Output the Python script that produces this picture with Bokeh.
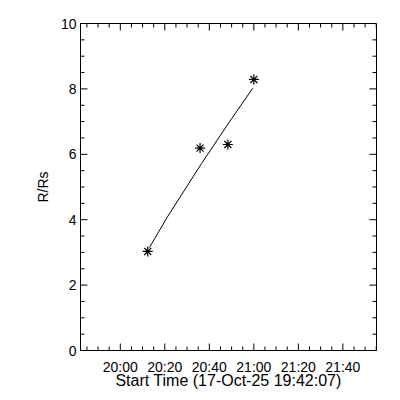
import math
from bokeh.plotting import figure
from bokeh.models import FixedTicker, Range1d
from bokeh.embed import file_html
from bokeh.resources import INLINE

# ---- data ----
start_label = "17-Oct-25 19:42:07"
x_start = "19:42:07"
x_end = "21:55:07"
point_times = ["20:12:20", "20:35:50", "20:48:20", "21:00:00"]
point_rs = [3.03, 6.19, 6.30, 8.29]
fit_times = ["20:13:07", "20:21:07", "20:36:31", "20:48:49", "20:59:31"]
fit_rs = [3.15, 4.08, 5.72, 6.97, 8.02]
x_tick_labels = ["20:00", "20:20", "20:40", "21:00", "21:20", "21:40"]
y_ticks = [0, 2, 4, 6, 8, 10]
y_range = (0, 10)
x_minor_step = 5      # minutes
y_minor_step = 0.5


def to_min(s):
    parts = s.split(":")
    h, m = int(parts[0]), int(parts[1])
    sec = float(parts[2]) if len(parts) > 2 else 0.0
    return h * 60 + m + sec / 60.0


x0, x1 = to_min(x_start), to_min(x_end)
y0, y1 = y_range
px = [to_min(t) for t in point_times]
fx = [to_min(t) for t in fit_times]
xt = [to_min(t) for t in x_tick_labels]
x_minor = [v for v in range(int(x0) + 1, int(x1) + 1) if v % x_minor_step == 0 and v not in xt]
y_minor = [k * y_minor_step for k in range(int(y0 / y_minor_step), int(y1 / y_minor_step) + 1)
           if (k * y_minor_step) not in y_ticks]

FONT = "Liberation Sans"

p = figure(frame_width=296, frame_height=327,
           min_border_left=80, min_border_right=22,
           min_border_top=23, min_border_bottom=48,
           x_range=Range1d(x0, x1), y_range=Range1d(y0, y1),
           output_backend="svg", toolbar_location=None)
p.grid.visible = False
p.outline_line_color = "black"
p.outline_line_width = 1
p.background_fill_color = "white"
p.border_fill_color = "white"

# inward tick marks on all four sides (screen-length rays from the frame edges)
MAJ, MIN = 7, 4
for xs, ln in [(xt, MAJ), (x_minor, MIN)]:
    p.ray(x=xs, y=[y0] * len(xs), length=ln, length_units="screen",
          angle=math.pi / 2, line_color="black", line_width=1)
    p.ray(x=xs, y=[y1] * len(xs), length=ln, length_units="screen",
          angle=-math.pi / 2, line_color="black", line_width=1)
for ys, ln in [(y_ticks, MAJ), (y_minor, MIN)]:
    p.ray(x=[x0] * len(ys), y=ys, length=ln, length_units="screen",
          angle=0, line_color="black", line_width=1)
    p.ray(x=[x1] * len(ys), y=ys, length=ln, length_units="screen",
          angle=math.pi, line_color="black", line_width=1)

p.line(fx, fit_rs, line_color="black", line_width=1)
p.scatter(px, point_rs, marker="asterisk", size=10, line_color="black", line_width=1.2)

xa = p.xaxis[0]
xa.ticker = FixedTicker(ticks=xt, minor_ticks=[])
xa.major_label_overrides = {t: lab for t, lab in zip(xt, x_tick_labels)}
xa.axis_label = "Start Time (" + start_label + ")"

ya = p.yaxis[0]
ya.ticker = FixedTicker(ticks=y_ticks, minor_ticks=[])
ya.major_label_overrides = {t: str(t) for t in y_ticks}
ya.axis_label = "R/Rs"

for ax in [xa, ya]:
    ax.axis_line_color = "black"
    ax.axis_line_width = 1
    ax.major_tick_in = 0
    ax.major_tick_out = 0
    ax.minor_tick_in = 0
    ax.minor_tick_out = 0
    ax.major_label_text_color = "black"
    ax.major_label_text_font = FONT
    ax.major_label_text_font_size = "14px"
    ax.axis_label_text_font = FONT
    ax.axis_label_text_font_style = "normal"
    ax.axis_label_text_color = "black"

xa.axis_label_text_font_size = "16px"
ya.axis_label_text_font_size = "14px"
xa.major_label_standoff = 8
xa.axis_label_standoff = -6
ya.major_label_standoff = 4
ya.axis_label_standoff = 7

open("out.html", "w").write(file_html(p, INLINE))
